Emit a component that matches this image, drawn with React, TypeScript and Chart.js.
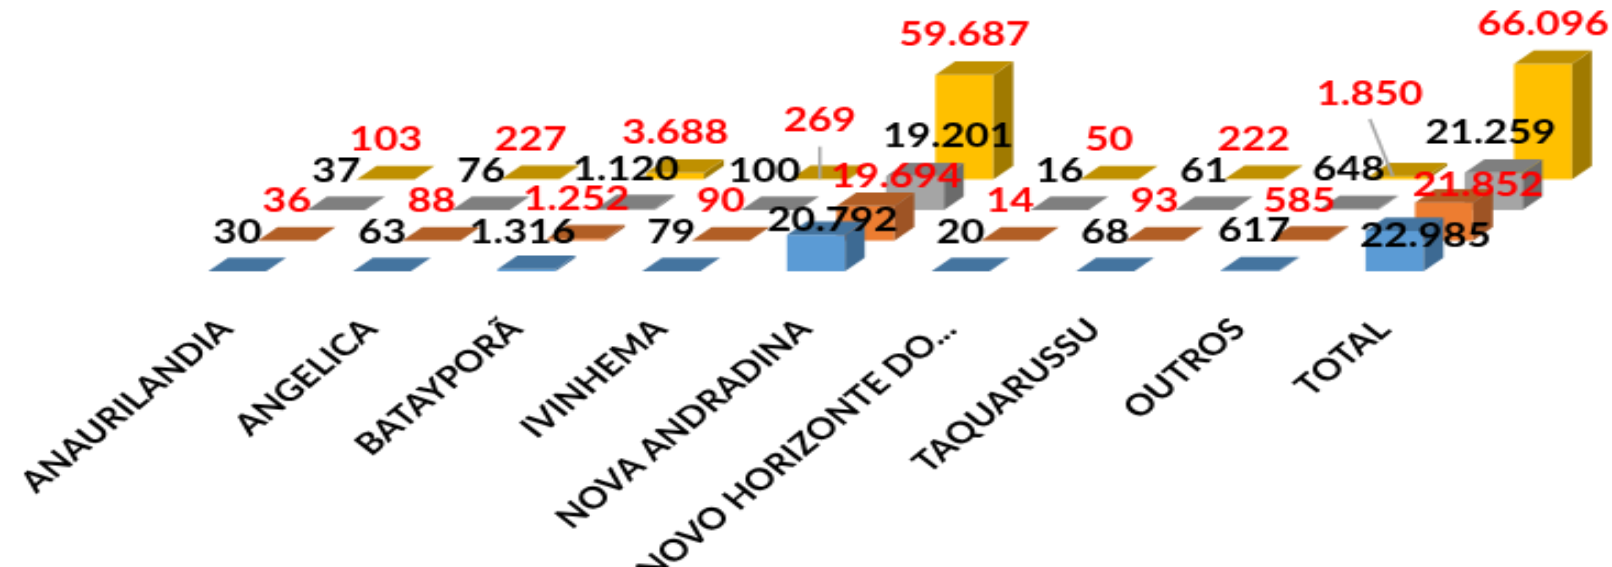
import React, { useEffect, useRef } from "react";
import { Chart, registerables } from "chart.js";

Chart.register(...registerables);

const categories = ["ANAURILANDIA", "ANGELICA", "BATAYPORÃ", "IVINHEMA", "NOVA ANDRADINA", "NOVO HORIZONTE DO...", "TAQUARUSSU", "OUTROS", "TOTAL"];
const seriesA = [30, 63, 1316, 79, 20792, 20, 68, 617, 22985];
const seriesB = [36, 88, 1252, 90, 19694, 14, 93, 585, 21852];
const seriesC = [37, 76, 1120, 100, 19201, 16, 61, 648, 21259];
const seriesD = [103, 227, 3688, 269, 59687, 50, 222, 1850, 66096];

const CANVAS_W = 733;
const CANVAS_H = 324;
const SERIES_DX = 22.5;
const SERIES_DY = -17.5;
const DEPTH_X = 9;
const DEPTH_Y = -7.7;
const LABEL_FONT = "bold 19px Lato";

const STYLES = [
  { front: "#5B9BD5", top: "#44749F", side: "#3D6A93", label: "#000000" },
  { front: "#ED7D31", top: "#B15E25", side: "#9E5425", label: "#FF0000" },
  { front: "#A5A5A5", top: "#7F7F7F", side: "#6B6B6B", label: "#000000" },
  { front: "#FFC000", top: "#BF9000", side: "#A07A00", label: "#FF0000" },
];

// label nudges in canvas pixels, "series:category" -> [dx, dy]
const NUDGES: Record<string, [number, number]> = {
  "0:2": [-2, 2],
  "0:4": [7.5, 14],
  "0:7": [2, 0],
  "0:8": [14, 25.6],
  "1:4": [14, 5.9],
  "1:8": [15.4, 12.3],
  "2:3": [-2.8, 0],
  "2:4": [15, 0],
  "2:8": [-1.4, 0],
  "3:3": [0, -10.5],
  "3:7": [-13, -24.7],
};
// leader lines: "series:category" -> horizontal shift of the line's lower end
const LEADERS: Record<string, number> = { "3:3": 0, "3:7": -2.5 };

const fmt = (v: number) => String(v).replace(/\B(?=(\d{3})+$)/g, ".");

const box3d = {
  id: "box3d",
  beforeDatasetDraw(chart: any, args: any) {
    const i = args.index;
    const st = STYLES[i];
    const ctx = chart.ctx;
    const ox = i * SERIES_DX;
    const oy = i * SERIES_DY;
    const poly = (pts: number[][], color: string) => {
      ctx.beginPath();
      pts.forEach((p, k) => (k ? ctx.lineTo(p[0], p[1]) : ctx.moveTo(p[0], p[1])));
      ctx.closePath();
      ctx.fillStyle = color;
      ctx.fill();
    };
    ctx.save();
    args.meta.data.forEach((bar: any) => {
      const p = bar.getProps(["x", "y", "base", "width"], true);
      const x0 = p.x - p.width / 2 + ox;
      const x1 = p.x + p.width / 2 + ox;
      const y0 = p.y + oy;
      const b = p.base + oy;
      poly([[x0, y0], [x1, y0], [x1, b], [x0, b]], st.front);
      poly([[x1, y0], [x1 + DEPTH_X, y0 + DEPTH_Y], [x1 + DEPTH_X, b + DEPTH_Y], [x1, b]], st.side);
      poly([[x0, y0], [x0 + DEPTH_X, y0 + DEPTH_Y], [x1 + DEPTH_X, y0 + DEPTH_Y], [x1, y0]], st.top);
    });
    ctx.restore();
    return false;
  },
  afterDatasetsDraw(chart: any) {
    const ctx = chart.ctx;
    ctx.save();
    ctx.font = LABEL_FONT;
    ctx.textAlign = "center";
    ctx.textBaseline = "middle";
    chart.data.datasets.forEach((ds: any, i: number) => {
      const meta = chart.getDatasetMeta(i);
      meta.data.forEach((bar: any, c: number) => {
        const p = bar.getProps(["x", "y"], true);
        const key = `${i}:${c}`;
        const n = NUDGES[key] || [0, 0];
        const fx = p.x + i * SERIES_DX;
        const fy = p.y + i * SERIES_DY;
        const lx = fx + n[0];
        const ly = fy + DEPTH_Y - 14.8 + n[1];
        if (key in LEADERS) {
          ctx.beginPath();
          ctx.moveTo(lx, ly + 14.5);
          ctx.lineTo(fx + LEADERS[key], fy);
          ctx.strokeStyle = "#A6A6A6";
          ctx.lineWidth = 1.5;
          ctx.stroke();
        }
        ctx.fillStyle = STYLES[i].label;
        ctx.fillText(fmt(ds.data[c]), lx, ly);
      });
    });
    ctx.restore();
  },
};

export default function App() {
  const ref = useRef<HTMLCanvasElement>(null);
  useEffect(() => {
    document.body.style.margin = "0";
    const chart = new Chart(ref.current as HTMLCanvasElement, {
      type: "bar",
      data: {
        labels: categories,
        datasets: [seriesA, seriesB, seriesC, seriesD].map((data, i) => ({
          label: `S${i + 1}`,
          data,
          backgroundColor: STYLES[i].front,
          barThickness: 26.4,
          grouped: false,
        })),
      },
      plugins: [box3d],
      options: {
        animation: false,
        responsive: false,
        devicePixelRatio: 1,
        layout: { autoPadding: false, padding: { left: 75, right: 66, top: 85, bottom: 0 } },
        plugins: { legend: { display: false }, tooltip: { enabled: false } },
        scales: {
          x: {
            grid: { display: false },
            border: { display: false },
            afterFit: (s: any) => {
              s.height = CANVAS_H - 155;
              s.paddingLeft = 0;
              s.paddingRight = 0;
            },
            ticks: {
              autoSkip: false,
              minRotation: 46,
              maxRotation: 46,
              padding: 15,
              labelOffset: -5,
              color: "#000000",
              font: { family: "Lato", size: 17.2, weight: "bold" },
            },
          },
          y: { display: false, min: 0, max: 70000 },
        },
      },
    } as any);
    return () => chart.destroy();
  }, []);
  return (
    <div style={{ position: "fixed", left: 0, top: 0, width: 1612, height: 567, overflow: "hidden", background: "#fff" }}>
      <div style={{ transform: `scale(${1612 / CANVAS_W}, ${567 / CANVAS_H})`, transformOrigin: "0 0", width: CANVAS_W, height: CANVAS_H }}>
        <canvas ref={ref} width={CANVAS_W} height={CANVAS_H} />
      </div>
    </div>
  );
}
